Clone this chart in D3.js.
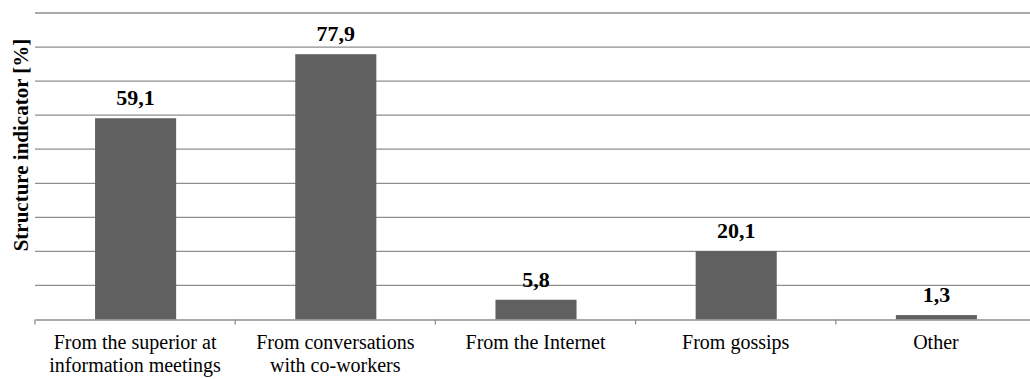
<!DOCTYPE html>
<html><head><meta charset="utf-8">
<script src="https://cdn.jsdelivr.net/npm/d3@7"></script>
<style>body{margin:0;background:#fff}svg{display:block}</style>
</head><body>
<script>
const categories = [
  ["From the superior at", "information meetings"],
  ["From conversations", "with co-workers"],
  ["From the Internet"],
  ["From gossips"],
  ["Other"]
];
const values = [59.1, 77.9, 5.8, 20.1, 1.3];
const valueLabels = ["59,1", "77,9", "5,8", "20,1", "1,3"];
const yTicks = [0, 10, 20, 30, 40, 50, 60, 70, 80, 90];
const yTitle = "Structure indicator [%]";

const W = 1030, H = 379;
const svg = d3.select("body").append("svg").attr("width", W).attr("height", H);
const keys = categories.map((c, i) => "c" + i);
const x = d3.scaleBand().domain(keys).range([35, 1036]).padding(0);
const y = d3.scaleLinear().domain([0, 90]).range([319.5, 13]);
const font = "'Liberation Serif','Times New Roman',serif";

// gridlines
svg.append("g").selectAll("line").data(yTicks.slice(1)).join("line")
  .attr("x1", 35).attr("x2", W).attr("y1", d => y(d)).attr("y2", d => y(d))
  .attr("stroke", "#8e8e8e").attr("stroke-width", 1.3);

// bars
const bw = x.bandwidth() * 0.405;
svg.append("g").selectAll("rect").data(values).join("rect")
  .attr("x", (d, i) => x(keys[i]) + x.bandwidth() / 2 - bw / 2 + 0.5)
  .attr("width", bw)
  .attr("y", d => y(d))
  .attr("height", d => y(0) - y(d))
  .attr("fill", "#606060");

// x axis
const xAxis = d3.axisBottom(x).tickSize(0).tickFormat("");
const gx = svg.append("g").attr("transform", `translate(0,${y(0)})`).call(xAxis);
gx.select(".domain").attr("stroke", "#8e8e8e").attr("stroke-width", 1.3);
// tick marks at category boundaries
svg.append("g").selectAll("line").data(keys).join("line")
  .attr("x1", d => x(d)).attr("x2", d => x(d))
  .attr("y1", y(0)).attr("y2", y(0) + 5)
  .attr("stroke", "#8e8e8e").attr("stroke-width", 1.3);

// category labels
const lab = svg.append("g").selectAll("text").data(categories).join("text")
  .attr("x", (d, i) => x(keys[i]) + x.bandwidth() / 2)
  .attr("y", 349)
  .attr("text-anchor", "middle")
  .attr("font-family", font).attr("font-size", 20).attr("fill", "#000");
lab.selectAll("tspan").data(d => d).join("tspan")
  .attr("x", function() { return this.parentNode.getAttribute("x"); })
  .attr("dy", (d, i) => i === 0 ? 0 : 23)
  .text(d => d);

// value labels
svg.append("g").selectAll("text").data(values).join("text")
  .attr("x", (d, i) => x(keys[i]) + x.bandwidth() / 2 + 0.5)
  .attr("y", d => y(d) - 13)
  .attr("text-anchor", "middle")
  .attr("font-family", font).attr("font-weight", "bold").attr("font-size", 22)
  .attr("fill", "#000")
  .text((d, i) => valueLabels[i]);

// y title
svg.append("text")
  .attr("transform", "translate(28,145) rotate(-90)")
  .attr("text-anchor", "middle")
  .attr("font-family", font).attr("font-weight", "bold").attr("font-size", 21)
  .text(yTitle);
</script>
</body></html>
